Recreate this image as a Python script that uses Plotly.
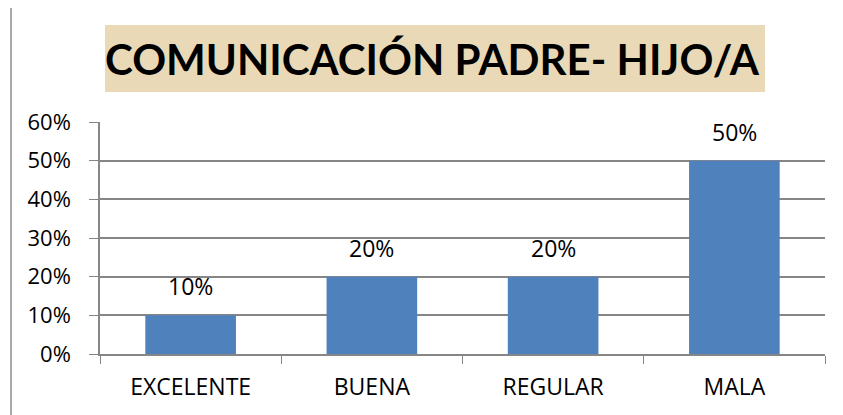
import plotly.graph_objects as go

categories = ["EXCELENTE", "BUENA", "REGULAR", "MALA"]
values = [0.10, 0.20, 0.20, 0.50]
value_labels = ["10%", "20%", "20%", "50%"]
y_ticks = [0, 0.1, 0.2, 0.3, 0.4, 0.5, 0.6]
y_tick_labels = ["0%", "10%", "20%", "30%", "40%", "50%", "60%"]
title_text = "COMUNICACIÓN PADRE- HIJO/A"

# page body adds an 8px offset; work in window pixels and subtract it
OFF = 8
W, H = 843 - OFF, 415 - OFF
PL, PR, PT, PB = 100, 825, 122, 354   # plot area in window pixels
L, T = PL - OFF, PT - OFF
R, B = W - (PR - OFF), H - (PB - OFF)
pw, ph = W - L - R, H - T - B

def px_x(x):
    return (x - PL) / pw

def px_y(y):
    return (PB - y) / ph

FONT = "Open Sans"

fig = go.Figure()
fig.add_trace(go.Bar(
    x=categories, y=values,
    marker=dict(color="#4F81BD", line=dict(width=0)),
    width=0.5,
))

for c, v, t in zip(categories, values, value_labels):
    fig.add_annotation(x=c, y=v, text=t, showarrow=False, yanchor="bottom",
                       yshift=11, font=dict(family=FONT, size=23, color="#000"))

# title box
fig.add_shape(type="rect", xref="paper", yref="paper",
              x0=px_x(105), x1=px_x(765), y0=px_y(92), y1=px_y(25),
              fillcolor="#E9D9B6", line=dict(width=0), layer="below")
fig.add_annotation(xref="paper", yref="paper", x=px_x(432), y=px_y(59),
                   text="<b>" + title_text + "</b>", showarrow=False,
                   xanchor="center", yanchor="middle",
                   font=dict(family="Lato", size=42, color="#000"))
# left border of chart area
fig.add_shape(type="line", xref="paper", yref="paper",
              x0=px_x(11), x1=px_x(11), y0=px_y(OFF), y1=px_y(415),
              line=dict(color="#8C8C8C", width=1.5))

fig.update_layout(
    width=W, height=H,
    margin=dict(l=L, r=R, t=T, b=B, autoexpand=False),
    paper_bgcolor="white", plot_bgcolor="white",
    showlegend=False,
    bargap=0.5,
    xaxis=dict(
        type="category", tickson="boundaries", ticks="outside", ticklen=8,
        tickcolor="#868686", showline=True, linecolor="#868686", linewidth=1.5,
        showgrid=False, ticklabelstandoff=12, automargin=False,
        tickfont=dict(family=FONT, size=23, color="#000"),
    ),
    yaxis=dict(
        range=[0, 0.6], tickvals=y_ticks, ticktext=y_tick_labels,
        ticks="outside", ticklen=9, tickcolor="#868686",
        showline=True, linecolor="#868686", linewidth=1.5,
        showgrid=True, gridcolor="#868686", gridwidth=1.5,
        zeroline=False, ticklabelstandoff=14, automargin=False,
        tickfont=dict(family=FONT, size=22, color="#000"),
    ),
)

fig.write_html("out.html")
